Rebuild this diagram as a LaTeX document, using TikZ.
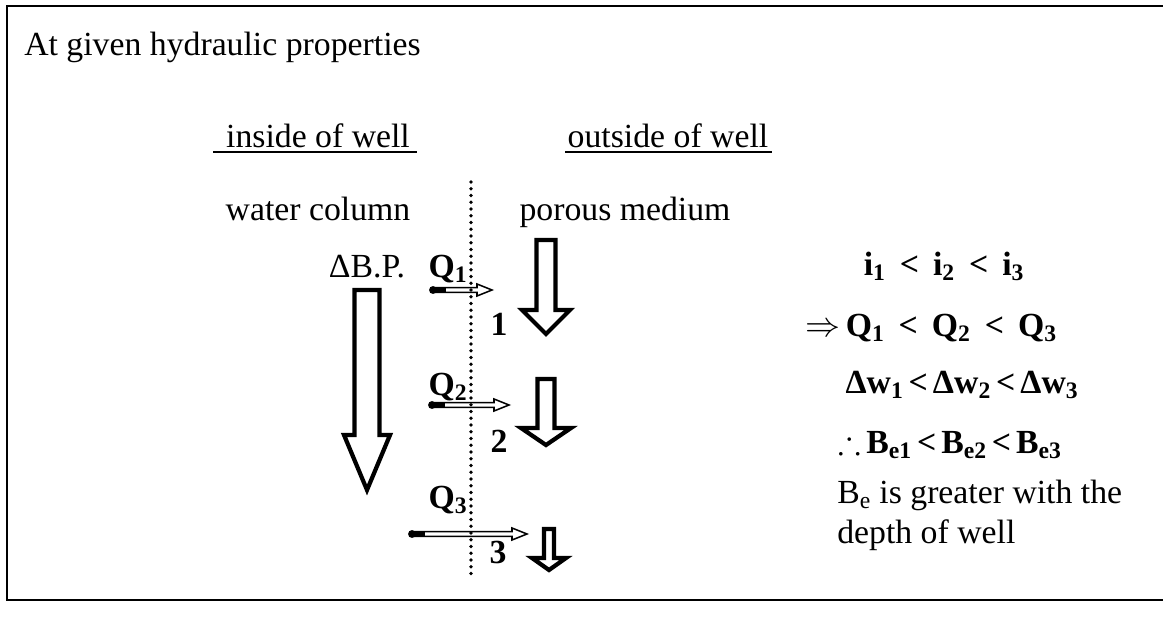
\documentclass[tikz,border=0pt]{standalone}
\usepackage{fontspec}
\setmainfont{Liberation Serif}
\usepackage{amsmath, amssymb}
\usetikzlibrary{calc}

% hollow block arrow pointing down: x, top, head start, tip, shaft half, head half
\newcommand{\blockdown}[6]{%
  \draw[blockarrow] (#1-#5,#2) -- (#1+#5,#2) -- (#1+#5,#3) -- (#1+#6,#3)
    -- (#1,#4) -- (#1-#6,#3) -- (#1-#5,#3) -- cycle;}
% thin double-line arrow for the inflow Q: x tail, x tip, y
\newcommand{\qarrow}[3]{%
  \draw[qline] (#1,#3-2.4) -- (#2-15,#3-2.4) -- (#2-15,#3-6) -- (#2,#3)
    -- (#2-15,#3+6) -- (#2-15,#3+2.4) -- (#1,#3+2.4);
  \fill (#1,#3) circle[radius=2.8pt];
  \fill (#1,#3-2.6) rectangle (#1+13,#3+2.6);}
\newcommand{\lt}{\hspace{0.15em}<\hspace{0.15em}}

\begin{document}
\begin{tikzpicture}[x=0.025cm, y=-0.025cm,
    every node/.style={inner sep=0pt, anchor=base, font=\fontsize{24}{29}\selectfont},
    blockarrow/.style={line width=3pt, line join=miter, fill=white},
    qline/.style={line width=1.1pt, fill=white},
    uline/.style={line width=1.3pt},
    well/.style={line width=2.7pt, line cap=round, dash pattern=on 0pt off 4.8pt}]
        \useasboundingbox (0,0) rectangle (1163,620);
        % frame (open on the right)
        \draw[line width=1.4pt] (1163,6) -- (7,6) -- (7,600) -- (1163,600);
        % title
        \node[anchor=base west] (title) at (24,55) {At given hydraulic properties};
        % headings
        \node (inside) at (318,147) {inside of well};
        \node (outside) at (668,147) {outside of well};
        \draw[uline] (213,152) -- (417,152);
        \draw[uline] (565,152) -- (772,152);
        \node (water) at (318,220) {water column};
        \node (porous) at (625,220) {porous medium};
        % inside of well
        \node (dbp) at (367,277) {ΔB.P.};
        \blockdown{367}{290}{435}{490}{12.5}{23}
        % inflow through the screen
        \node (q1) at (448,277) {\textbf{Q\textsubscript{1}}};
        \node (q2) at (448,395) {\textbf{Q\textsubscript{2}}};
        \node (q3) at (448,508) {\textbf{Q\textsubscript{3}}};
        \qarrow{433}{492}{290}
        \qarrow{432}{509}{405}
        \qarrow{412}{527}{534}
        \node (n1) at (499,335) {\textbf{1}};
        \node (n2) at (499,452) {\textbf{2}};
        \node (n3) at (498,563) {\textbf{3}};
        % well screen
        \draw[well] (471,182) -- (471,577);
        % porous medium
        \blockdown{546}{240}{310}{334}{9.5}{24}
        \blockdown{546}{379}{428}{445}{8.5}{25}
        \blockdown{549}{529}{558}{570}{5}{17}
        % conclusions
        \node (grad) at (944,275) {\textbf{i\textsubscript{1} \,<\, i\textsubscript{2} \,<\, i\textsubscript{3}}};
        \node (flow) at (931,336) {$\Rightarrow$\,\textbf{Q\textsubscript{1} \,<\, Q\textsubscript{2} \,<\, Q\textsubscript{3}}};
        \node (dw) at (962,393) {\textbf{Δw\textsubscript{1}\lt Δw\textsubscript{2}\lt Δw\textsubscript{3}}};
        \node (be) at (950,453) {$\therefore$\,\textbf{B\textsubscript{e1}\lt B\textsubscript{e2}\lt B\textsubscript{e3}}};
        \node[anchor=base west] (concl1) at (837,503) {B\textsubscript{e} is greater with the};
        \node[anchor=base west] (concl2) at (837,543) {depth of well};
    \end{tikzpicture}
\end{document}
